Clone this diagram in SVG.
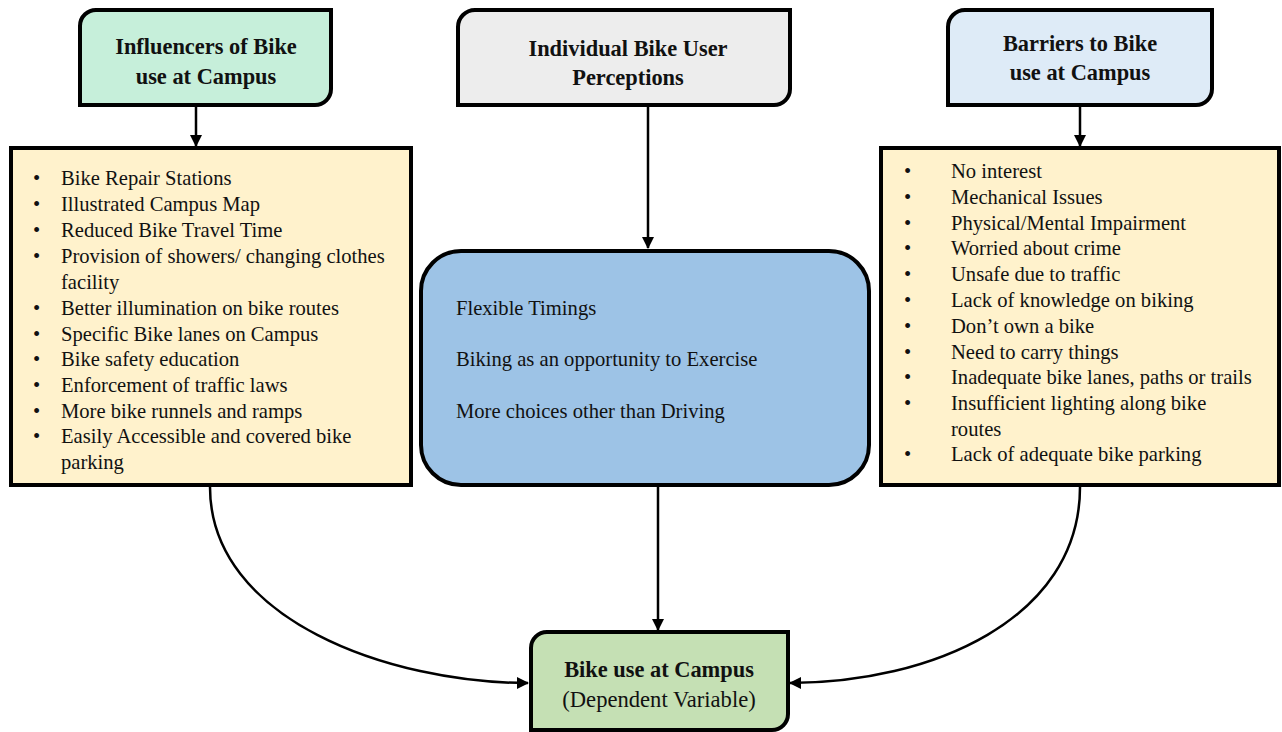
<svg xmlns="http://www.w3.org/2000/svg" width="1282" height="732" viewBox="0 0 1282 732">
<defs>
<marker id="ah" markerWidth="12" markerHeight="12" viewBox="0 0 12 12" refX="11" refY="6" orient="auto" markerUnits="userSpaceOnUse">
<path d="M0,0 L12,6 L0,12 Z" fill="#000"/>
</marker>
<style>
.box{stroke:#000;stroke-width:4}
.hd{font-family:"Liberation Serif","Times New Roman",serif;font-size:22.4px;font-weight:bold;fill:#111;text-anchor:middle}
.tx{font-family:"Liberation Serif","Times New Roman",serif;font-size:20.6px;fill:#111}
.con{fill:none;stroke:#000;stroke-width:2.5;marker-end:url(#ah)}
</style>
</defs>
<rect width="1282" height="732" fill="#fff"/>
<g id="connectors">
<line class="con" x1="196" y1="106" x2="196" y2="146"/>
<line class="con" x1="1080" y1="106" x2="1080" y2="146"/>
<line class="con" x1="648" y1="106" x2="648" y2="248"/>
<line class="con" x1="658" y1="487" x2="658" y2="630"/>
<path class="con" d="M210,487 C210,620 390,683 528,683"/>
<path class="con" d="M1080,487 C1080,620 930,683 790,683"/>
</g>
<g id="influencers">
<path class="box" fill="#C6EFDA" d="M97,10 H331 V89 A16,16 0 0 1 315,105 H80 V26 A16,16 0 0 1 97,10 Z"/>
<text class="hd" x="206" y="54">Influencers of Bike</text>
<text class="hd" x="206" y="84">use at Campus</text>
</g>
<g id="perceptions">
<path class="box" fill="#EDEDED" d="M475,10 H790 V89 A16,16 0 0 1 774,105 H458 V27 A17,17 0 0 1 475,10 Z"/>
<text class="hd" x="628" y="56">Individual Bike User</text>
<text class="hd" x="628" y="85">Perceptions</text>
</g>
<g id="barriers">
<path class="box" fill="#DEEBF7" d="M965,10 H1212 V89 A16,16 0 0 1 1196,105 H948 V27 A17,17 0 0 1 965,10 Z"/>
<text class="hd" x="1080" y="51">Barriers to Bike</text>
<text class="hd" x="1080" y="80">use at Campus</text>
</g>
<g id="influencers-list">
<rect class="box" x="11" y="148" width="400" height="337" fill="#FFF2CC"/>
<g class="tx">
<text x="33" y="185">•</text><text x="61" y="185">Bike Repair Stations</text>
<text x="33" y="211">•</text><text x="61" y="211">Illustrated Campus Map</text>
<text x="33" y="237">•</text><text x="61" y="237">Reduced Bike Travel Time</text>
<text x="33" y="263">•</text><text x="61" y="263">Provision of showers/ changing clothes</text>
<text x="61" y="289">facility</text>
<text x="33" y="315">•</text><text x="61" y="315">Better illumination on bike routes</text>
<text x="33" y="341">•</text><text x="61" y="341">Specific Bike lanes on Campus</text>
<text x="33" y="366">•</text><text x="61" y="366">Bike safety education</text>
<text x="33" y="392">•</text><text x="61" y="392">Enforcement of traffic laws</text>
<text x="33" y="418">•</text><text x="61" y="418">More bike runnels and ramps</text>
<text x="33" y="443">•</text><text x="61" y="443">Easily Accessible and covered bike</text>
<text x="61" y="469">parking</text>
</g>
</g>
<g id="perceptions-box">
<rect class="box" x="421" y="251" width="448" height="234" rx="40" ry="40" fill="#9DC3E6"/>
<g class="tx">
<text x="456" y="315">Flexible Timings</text>
<text x="456" y="366">Biking as an opportunity to Exercise</text>
<text x="456" y="418">More choices other than Driving</text>
</g>
</g>
<g id="barriers-list">
<rect class="box" x="881" y="148" width="398" height="337" fill="#FFF2CC"/>
<g class="tx">
<text x="904" y="178">•</text><text x="951" y="178">No interest</text>
<text x="904" y="204">•</text><text x="951" y="204">Mechanical Issues</text>
<text x="904" y="230">•</text><text x="951" y="230">Physical/Mental Impairment</text>
<text x="904" y="255">•</text><text x="951" y="255">Worried about crime</text>
<text x="904" y="281">•</text><text x="951" y="281">Unsafe due to traffic</text>
<text x="904" y="307">•</text><text x="951" y="307">Lack of knowledge on biking</text>
<text x="904" y="333">•</text><text x="951" y="333">Don’t own a bike</text>
<text x="904" y="359">•</text><text x="951" y="359">Need to carry things</text>
<text x="904" y="384">•</text><text x="951" y="384">Inadequate bike lanes, paths or trails</text>
<text x="904" y="410">•</text><text x="951" y="410">Insufficient lighting along bike</text>
<text x="951" y="436">routes</text>
<text x="904" y="461">•</text><text x="951" y="461">Lack of adequate bike parking</text>
</g>
</g>
<g id="bike-use">
<path class="box" fill="#C5E0B4" d="M547,632 H788 V714 A16,16 0 0 1 772,730 H531 V648 A16,16 0 0 1 547,632 Z"/>
<text class="hd" x="659" y="677">Bike use at Campus</text>
<text class="tx" x="659" y="707" text-anchor="middle" style="font-size:22.6px">(Dependent Variable)</text>
</g>
</svg>
